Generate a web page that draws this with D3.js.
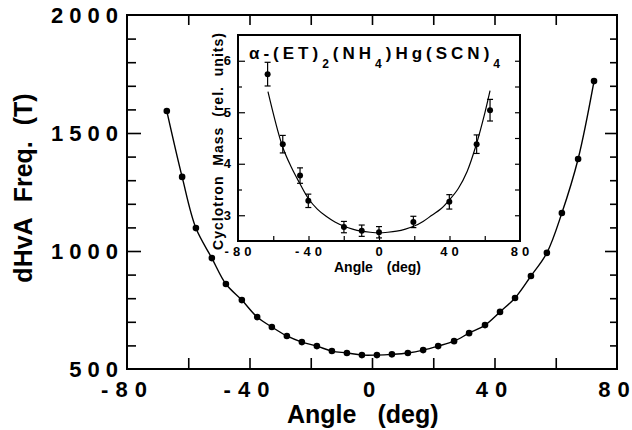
<!DOCTYPE html>
<html>
<head>
<meta charset="utf-8">
<script src="https://cdn.jsdelivr.net/npm/d3@7"></script>
<style>
  body { margin: 0; background: #fff; }
  svg { display: block; font-family: "Liberation Sans", Arial, sans-serif; font-weight: bold; }
  .axis path { display: none; }
  .axis line { stroke: #000; stroke-width: 1.6; }
  .inset .axis line { stroke-width: 1.2; }
</style>
</head>
<body>
<svg width="632" height="430"></svg>
<script>
// main panel: dHvA frequency vs angle
var angle = [-67, -62, -57.5, -52.3, -47.7, -42.5, -37.5, -32.7, -27.8, -22.9, -18, -13.1, -8.2, -3.3,
             1.6, 6.5, 11.7, 16.7, 21.6, 26.8, 31.7, 36.9, 41.8, 46.7, 51.9, 57.1, 62.0, 67.3, 72.5];
var freq = [1593, 1314, 1097, 970, 860, 792, 720, 678, 640, 614, 597, 576, 568, 559,
            559, 562, 568, 580, 597, 618, 652, 686, 742, 801, 894, 992, 1161, 1390, 1720];
var xTickLabels = [-80, -40, 0, 40, 80];
var yTickLabels = [500, 1000, 1500, 2000];

// inset: cyclotron mass
var massAngle = [-63.2, -54.6, -44.8, -40.1, -19.9, -9.8, 0, 19.5, 39.9, 55.4, 63.0];
var mass = [5.74, 4.38, 3.77, 3.28, 2.77, 2.70, 2.67, 2.87, 3.26, 4.38, 5.04];
var massErr = [0.23, 0.17, 0.15, 0.13, 0.11, 0.11, 0.11, 0.11, 0.14, 0.18, 0.21];
// fitted curve
var fitAngle = [-63, -55, -50, -45, -40, -35, -30, -25, -20, -15, -10, -5, 0, 5, 10, 15, 20, 25, 30, 35, 40, 45, 50, 55, 60, 63];
var fitMass = [5.40, 4.36, 3.95, 3.62, 3.32, 3.12, 2.98, 2.87, 2.79, 2.73, 2.69, 2.67, 2.66, 2.67, 2.69, 2.73, 2.79, 2.88, 3.0, 3.12, 3.30, 3.52, 3.85, 4.35, 4.98, 5.42];
var insetXLabels = [-80, -40, 0, 40, 80];
var insetYLabels = [3, 4, 5, 6];

var svg = d3.select("svg");

var x = d3.scaleLinear().domain([-80, 80]).range([127, 617]),
    y = d3.scaleLinear().domain([500, 2000]).range([369, 15]);

var main = svg.append("g");

// spaced-out label without trailing spacing
function spaced(sel, gap) {
    sel.each(function (d) {
        var t = d3.select(this);
        String(d).split("").forEach(function (c, i) {
            t.append("tspan").attr("dx", i ? gap : 0).text(c);
        });
    });
}

// ticks
var minorF = d3.range(600, 2000, 100).filter(function (v) { return v % 500 !== 0; });
main.append("g").attr("class", "axis").attr("transform", "translate(0,369)")
    .call(d3.axisBottom(x).tickValues(d3.range(-60, 61, 20)).tickSizeInner(-11).tickFormat(""));
main.append("g").attr("class", "axis").attr("transform", "translate(0,15)")
    .call(d3.axisTop(x).tickValues(d3.range(-60, 61, 20)).tickSizeInner(-10).tickFormat(""));
main.append("g").attr("class", "axis").attr("transform", "translate(127,0)")
    .call(d3.axisLeft(y).tickValues(minorF).tickSizeInner(-9).tickFormat(""));
main.append("g").attr("class", "axis").attr("transform", "translate(127,0)")
    .call(d3.axisLeft(y).tickValues([1000, 1500]).tickSizeInner(-14).tickFormat(""));
main.append("g").attr("class", "axis").attr("transform", "translate(617,0)")
    .call(d3.axisRight(y).tickValues(minorF).tickSizeInner(-7).tickFormat(""));
main.append("g").attr("class", "axis").attr("transform", "translate(617,0)")
    .call(d3.axisRight(y).tickValues([1000, 1500]).tickSizeInner(-12).tickFormat(""));

main.append("rect")
    .attr("x", x(-80)).attr("y", y(2000))
    .attr("width", x(80) - x(-80)).attr("height", y(500) - y(2000))
    .attr("fill", "none").attr("stroke", "#000").attr("stroke-width", 2);

// tick labels
main.selectAll(".xl").data(xTickLabels).enter().append("text")
    .attr("x", function (d) { return x(d) - 3; })
    .attr("y", 397)
    .attr("text-anchor", "middle")
    .style("font-size", "22px")
    .call(spaced, 7);

main.selectAll(".yl").data(yTickLabels).enter().append("text")
    .attr("x", 124)
    .attr("y", function (d) { return y(d) + 8; })
    .attr("text-anchor", "end")
    .style("font-size", "22px").style("letter-spacing", "6px")
    .text(function (d) { return d; });

main.append("text")
    .attr("x", 287).attr("y", 423)
    .style("font-size", "25px").style("word-spacing", "14px")
    .text("Angle (deg)");

main.append("text")
    .attr("transform", "translate(32,188) rotate(-90)")
    .attr("text-anchor", "middle")
    .style("font-size", "25px").style("word-spacing", "9px")
    .text("dHvA Freq. (T)");

// curve + points
var line = d3.line()
    .x(function (d, i) { return x(angle[i]); })
    .y(function (d) { return y(d); })
    .curve(d3.curveCatmullRom);

main.append("path").datum(freq)
    .attr("d", line)
    .attr("fill", "none").attr("stroke", "#000").attr("stroke-width", 1.4);

main.selectAll(".dot").data(freq).enter().append("circle")
    .attr("cx", function (d, i) { return x(angle[i]); })
    .attr("cy", function (d) { return y(d); })
    .attr("r", 3.3);

// inset
var ix = d3.scaleLinear().domain([-80, 80]).range([238, 520]),
    iy = d3.scaleLinear().domain([2.5, 6.5]).range([241, 35]);

var inset = svg.append("g").attr("class", "inset");

inset.append("rect")
    .attr("x", ix(-80)).attr("y", iy(6.5))
    .attr("width", ix(80) - ix(-80)).attr("height", iy(2.5) - iy(6.5))
    .attr("fill", "#fff");

inset.append("g").attr("class", "axis").attr("transform", "translate(0,241)")
    .call(d3.axisBottom(ix).tickValues(d3.range(-60, 61, 20)).tickSizeInner(-5).tickFormat(""));
inset.append("g").attr("class", "axis").attr("transform", "translate(238,0)")
    .call(d3.axisLeft(iy).tickValues([3.5, 4.5, 5.5]).tickSizeInner(-4).tickFormat(""));
inset.append("g").attr("class", "axis").attr("transform", "translate(238,0)")
    .call(d3.axisLeft(iy).tickValues(insetYLabels).tickSizeInner(-7).tickFormat(""));
inset.append("g").attr("class", "axis").attr("transform", "translate(520,0)")
    .call(d3.axisRight(iy).tickValues(d3.range(3, 6.01, 0.5)).tickSizeInner(-5).tickFormat(""));

inset.append("rect")
    .attr("x", ix(-80)).attr("y", iy(6.5))
    .attr("width", ix(80) - ix(-80)).attr("height", iy(2.5) - iy(6.5))
    .attr("fill", "none").attr("stroke", "#000").attr("stroke-width", 2);

inset.selectAll(".ixl").data(insetXLabels).enter().append("text")
    .attr("x", function (d) { return ix(d) + 2; })
    .attr("y", 256)
    .attr("text-anchor", "middle")
    .style("font-size", "13px").style("letter-spacing", "4px")
    .text(function (d) { return d; });

inset.selectAll(".iyl").data(insetYLabels).enter().append("text")
    .attr("x", 231)
    .attr("y", function (d) { return iy(d) + 4.5; })
    .attr("text-anchor", "end")
    .style("font-size", "13px")
    .text(function (d) { return d; });

inset.append("text")
    .attr("x", 334).attr("y", 272)
    .style("font-size", "14px").style("word-spacing", "10px")
    .text("Angle (deg)");

inset.append("text")
    .attr("transform", "translate(223,141) rotate(-90)")
    .attr("text-anchor", "middle")
    .style("font-size", "14px").style("letter-spacing", "1px").style("word-spacing", "5px")
    .text("Cyclotron Mass (rel. units)");

// formula title with subscripts
var title = inset.append("text")
    .attr("x", 249).attr("y", 59)
    .style("font-size", "17px").style("letter-spacing", "4px");
var parts = [["α-(ET)", 0], ["2", 1], ["(NH", 0], ["4", 1], [")Hg(SCN)", 0], ["4", 1]];
parts.forEach(function (p, i) {
    var prevSub = i > 0 && parts[i - 1][1];
    title.append("tspan")
        .attr("dy", p[1] ? 9 : (prevSub ? -9 : 0))
        .style("font-size", p[1] ? "12px" : "17px")
        .text(p[0]);
});

// fit curve
var fitLine = d3.line()
    .x(function (d, i) { return ix(fitAngle[i]); })
    .y(function (d) { return iy(d); })
    .curve(d3.curveCatmullRom);

inset.append("path").datum(fitMass)
    .attr("d", fitLine)
    .attr("fill", "none").attr("stroke", "#000").attr("stroke-width", 1.2);

// error bars
var eb = inset.selectAll(".eb").data(mass).enter().append("g");
eb.append("line")
    .attr("x1", function (d, i) { return ix(massAngle[i]); })
    .attr("x2", function (d, i) { return ix(massAngle[i]); })
    .attr("y1", function (d, i) { return iy(d - massErr[i]); })
    .attr("y2", function (d, i) { return iy(d + massErr[i]); })
    .attr("stroke", "#000").attr("stroke-width", 1.2);
[-1, 1].forEach(function (s) {
    eb.append("line")
        .attr("x1", function (d, i) { return ix(massAngle[i]) - 3; })
        .attr("x2", function (d, i) { return ix(massAngle[i]) + 3; })
        .attr("y1", function (d, i) { return iy(d + s * massErr[i]); })
        .attr("y2", function (d, i) { return iy(d + s * massErr[i]); })
        .attr("stroke", "#000").attr("stroke-width", 1.2);
});

inset.selectAll(".mdot").data(mass).enter().append("circle")
    .attr("cx", function (d, i) { return ix(massAngle[i]); })
    .attr("cy", function (d) { return iy(d); })
    .attr("r", 3);
</script>
</body>
</html>
